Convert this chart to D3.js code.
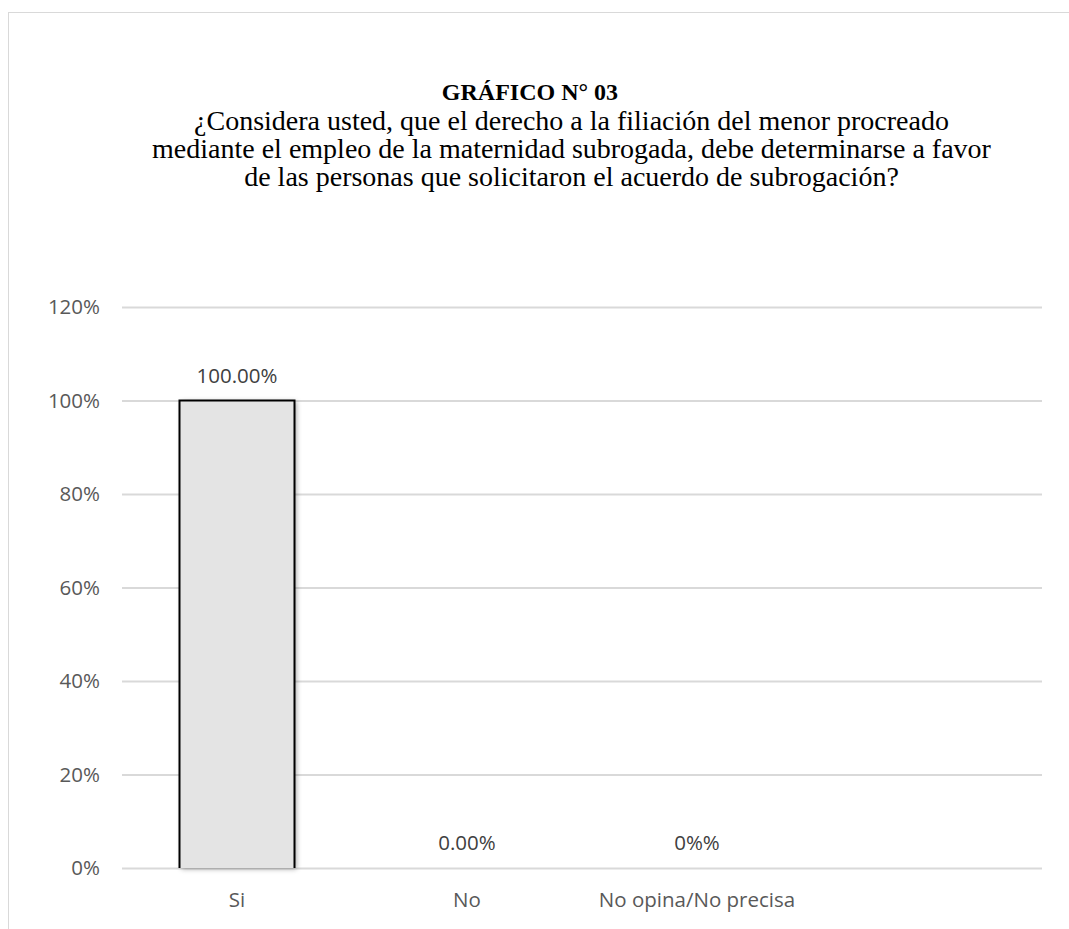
<!DOCTYPE html>
<meta charset="utf-8">

<head>
    <script src="https://d3js.org/d3.v7.min.js"></script>
</head>
<style>
    body {
        margin: 0;
        background: #fff;
    }

    .tick text {
        font-family: "Open Sans", sans-serif;
        font-size: 20.5px;
        fill: #595959;
    }
</style>

<body>
    <script>
        'use strict';

        // data
        const categories = ["Si", "No", "No opina/No precisa", ""];
        const values = [1.0, 0.0, 0.0, null];
        const valueLabels = ["100.00%", "0.00%", "0%%", ""];
        const yTicks = [0, 0.2, 0.4, 0.6, 0.8, 1.0, 1.2];

        const titleText = "GRÁFICO N° 03";
        const subtitleLines = [
            "¿Considera usted, que el derecho a la filiación del menor procreado",
            "mediante el empleo de la maternidad subrogada, debe determinarse a favor",
            "de las personas que solicitaron el acuerdo de subrogación?"
        ];

        const W = 1069, H = 929;
        const margin = { top: 307, right: 27, bottom: 61, left: 122 },
            width = W - margin.left - margin.right,
            height = H - margin.top - margin.bottom;

        const svg = d3.select("body").append("svg")
            .attr("width", W)
            .attr("height", H);

        // chart area border (goes off the right and bottom of the picture)
        svg.append("rect")
            .attr("x", 8.5).attr("y", 12.5)
            .attr("width", W + 20).attr("height", H + 20)
            .attr("fill", "none")
            .attr("stroke", "#d9d9d9")
            .attr("stroke-width", 1);

        const defs = svg.append("defs");
        const shadow = defs.append("filter").attr("id", "shadow")
            .attr("x", "-20%").attr("y", "-5%").attr("width", "140%").attr("height", "110%");
        shadow.append("feDropShadow")
            .attr("dx", 2).attr("dy", 1).attr("stdDeviation", 2.5)
            .attr("flood-color", "#000").attr("flood-opacity", 0.35);

        // titles
        svg.append("text")
            .attr("x", 530).attr("y", 100)
            .attr("text-anchor", "middle")
            .style("font-family", "'Liberation Serif', 'Times New Roman', serif")
            .style("font-weight", "bold")
            .style("font-size", "24px")
            .attr("fill", "#000")
            .text(titleText);

        svg.append("g").selectAll("text")
            .data(subtitleLines)
            .enter().append("text")
            .attr("x", 571.5)
            .attr("y", (d, i) => 130 + i * 28)
            .attr("text-anchor", "middle")
            .style("font-family", "'Liberation Serif', 'Times New Roman', serif")
            .style("font-size", "28px")
            .attr("fill", "#000")
            .text((d) => d);

        const g = svg.append("g")
            .attr("transform", "translate(" + margin.left + "," + margin.top + ")");

        const x = d3.scaleBand()
            .domain(categories)
            .range([0, width])
            .paddingInner(0.5)
            .paddingOuter(0.25);

        const y = d3.scaleLinear()
            .domain([0, 1.2])
            .range([height, 0]);

        // gridlines + y labels
        const yAxis = g.append("g")
            .call(d3.axisLeft(y)
                .tickValues(yTicks)
                .tickSize(-width)
                .tickPadding(22)
                .tickFormat(d3.format(".0%")));
        yAxis.select(".domain").remove();
        yAxis.selectAll(".tick line")
            .attr("stroke", "#d9d9d9")
            .attr("stroke-width", 2);

        // x labels
        const xAxis = g.append("g")
            .attr("transform", "translate(0," + height + ")")
            .call(d3.axisBottom(x).tickSize(0).tickPadding(24));
        xAxis.select(".domain").remove();

        const data = categories.map((c, i) => ({ cat: c, value: values[i], label: valueLabels[i] }))
            .filter((d) => d.value !== null);

        // bars
        const bars = g.selectAll(".bar")
            .data(data.filter((d) => d.value > 0))
            .enter().append("g")
            .attr("class", "bar");

        bars.append("rect")
            .attr("x", (d) => x(d.cat))
            .attr("y", (d) => y(d.value))
            .attr("width", x.bandwidth())
            .attr("height", (d) => y(0) - y(d.value))
            .attr("fill", "#e4e4e4")
            .attr("filter", "url(#shadow)");

        bars.append("path")
            .attr("d", (d) => {
                const x0 = x(d.cat), x1 = x0 + x.bandwidth();
                return "M" + x0 + "," + y(0) + "V" + y(d.value) + "H" + x1 + "V" + y(0);
            })
            .attr("fill", "none")
            .attr("stroke", "#000")
            .attr("stroke-width", 2);

        // value labels
        g.selectAll(".vlabel")
            .data(data)
            .enter().append("text")
            .attr("class", "vlabel")
            .attr("x", (d) => x(d.cat) + x.bandwidth() / 2)
            .attr("y", (d) => y(d.value) - 18)
            .attr("text-anchor", "middle")
            .style("font-family", "'Open Sans', sans-serif")
            .style("font-size", "20.5px")
            .attr("fill", "#404040")
            .text((d) => d.label);
    </script>
